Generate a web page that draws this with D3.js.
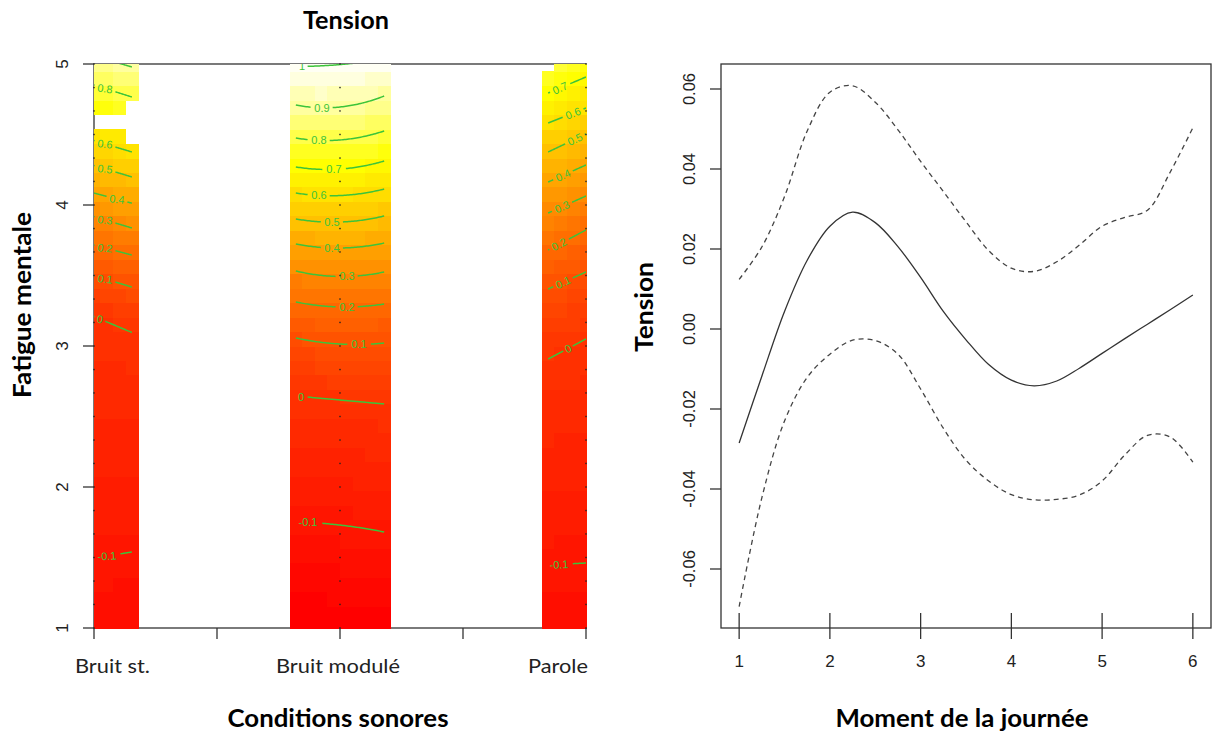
<!DOCTYPE html>
<html><head><meta charset="utf-8">
<script src="https://cdn.jsdelivr.net/npm/d3@7"></script>
<style>body{margin:0;background:#fff}svg{display:block}</style>
</head><body>
<svg id="c" width="1212" height="733"></svg>
<script>
// ---------------- DATA ----------------
const conditions = ["Bruit st.", "Bruit modulé", "Parole"];
const fatigueTicks = [1, 2, 3, 4, 5];
const conditionTicks = [1, 1.5, 2, 2.5, 3];

// heat-map grid (vis.gam, n.grid = 40) : grid columns kept per condition
const gridSize = 40;
const col1Cells = [0, 1, 2, 3];
const col2Cells = [16, 17, 18, 19, 20, 21, 22, 23];
const col3Cells = [36, 37, 38, 39];
const missingCells = [[3, 36], [0, 35], [1, 35], [2, 35], [3, 35], [3, 34], [36, 39]]; // [i, j]

// contour lines: fatigue value at which each level crosses the column edges
const col1X = [1, 1.1538];
const col1Levels = [0.9, 0.8, 0.7, 0.6, 0.5, 0.4, 0.3, 0.2, 0.1, 0, -0.1];
const col1Left  = [5.057, 4.851, 4.660, 4.457, 4.280, 4.085, 3.918, 3.716, 3.500, 3.209, 1.496];
const col1Right = [4.979, 4.766, 4.574, 4.376, 4.199, 4.013, 3.837, 3.645, 3.418, 3.096, 1.539];
const col1LabelX = [null, 1.0447, null, 1.0447, 1.0447, 1.0935, 1.0447, 1.0447, 1.0447, 1.0244, 1.0528];
const col1Hidden = [0.7];

const col2X = [1.8205, 2.0, 2.1795];
const col2Levels = [1.0, 0.9, 0.8, 0.7, 0.6, 0.5, 0.4, 0.3, 0.2, 0.1, 0, -0.1];
const col2Left  = [4.982, 4.709, 4.475, 4.270, 4.085, 3.901, 3.723, 3.532, 3.312, 3.057, 2.645, 1.752];
const col2Mid   = [4.996, 4.695, 4.461, 4.255, 4.067, 3.879, 3.695, 3.493, 3.277, 3.014, 2.617, 1.730];
const col2Right = [5.035, 4.773, 4.525, 4.312, 4.113, 3.922, 3.730, 3.525, 3.298, 3.021, 2.589, 1.681];
const col2LabelX = [1.8455, 1.9268, 1.9146, 1.9756, 1.9146, 1.9675, 1.9675, 2.0285, 2.0285, 2.0772, 1.8415, 1.8699];
const col2Hidden = [];

const col3X = [2.8462, 3.0];
const col3Levels = [0.7, 0.6, 0.5, 0.4, 0.3, 0.2, 0.1, 0, -0.1];
const col3Left  = [4.794, 4.582, 4.376, 4.163, 3.943, 3.681, 3.404, 2.908, 1.447];
const col3Right = [4.908, 4.688, 4.504, 4.284, 4.064, 3.823, 3.525, 3.050, 1.461];
const col3LabelX = [2.8943, 2.9472, 2.9553, 2.9065, 2.9024, 2.8902, 2.9065, 2.9268, 2.8902];
const col3Hidden = [];

// observed fatigue values (points drawn at each condition)
const obsConditions = [1, 2, 3];
const obsFatigue = [1, 1.167, 1.333, 1.5, 1.667, 1.833, 2, 2.167, 2.333, 2.5, 2.667, 2.833, 3,
                    3.167, 3.333, 3.5, 3.667, 3.833, 4, 4.167, 4.333, 4.5, 4.667, 4.833, 5];

// right panel: smooth of "Moment de la journée"
const momentX   = [1, 1.25, 1.5, 1.75, 2, 2.25, 2.5, 2.75, 3, 3.25, 3.5, 3.75, 4, 4.25, 4.5, 4.75, 5, 5.25, 5.5, 5.75, 6];
const fitValues = [-0.0285, -0.0118, 0.0044, 0.0172, 0.0257, 0.0292, 0.0266, 0.0206, 0.0129, 0.0044, -0.0027, -0.0089,
                   -0.0128, -0.0142, -0.0130, -0.0098, -0.0061, -0.0024, 0.0012, 0.0048, 0.0085];
const upperValues = [0.0124, 0.0205, 0.0331, 0.0495, 0.0592, 0.0608, 0.0567, 0.0498, 0.0419, 0.0344, 0.0268, 0.0196,
                     0.0152, 0.0144, 0.0168, 0.0210, 0.0257, 0.0279, 0.0297, 0.0392, 0.0503];
const lowerValues = [-0.0694, -0.0422, -0.0230, -0.0121, -0.0063, -0.0028, -0.0029, -0.0063, -0.0150, -0.0248, -0.0328, -0.0380,
                     -0.0414, -0.0427, -0.0426, -0.0415, -0.0380, -0.0315, -0.0266, -0.0270, -0.0333];
const momentTicks = [1, 2, 3, 4, 5, 6];
const tensionTicks = [-0.06, -0.04, -0.02, 0, 0.02, 0.04, 0.06];
const rugX = [1, 2, 3, 4, 5, 6];

// ---------------- DRAWING ----------------
const svg = d3.select("#c");
const numFont = "'Liberation Sans', Arial, sans-serif";
const txtFont = "Lato, 'Liberation Sans', sans-serif";
const axisCol = "#333";
const contourCol = "#3cc43a";

// ---- left panel ----
const xL = d3.scaleLinear().domain([1, 3]).range([94, 586]);
const yL = d3.scaleLinear().domain([1, 5]).range([628, 64]);
const gx = i => 1 + 2 * i / (gridSize - 1);
const gy = j => 1 + 4 * j / (gridSize - 1);
const dxg = 2 / (gridSize - 1), dyg = 4 / (gridSize - 1);

const columns = [
  {cells: col1Cells, xs: col1X, levels: col1Levels, pos: [col1Left, col1Right], labelX: col1LabelX, hidden: col1Hidden, rot: 0.4},
  {cells: col2Cells, xs: col2X, levels: col2Levels, pos: [col2Left, col2Mid, col2Right], labelX: col2LabelX, hidden: col2Hidden, rot: 0},
  {cells: col3Cells, xs: col3X, levels: col3Levels, pos: [col3Left, col3Right], labelX: col3LabelX, hidden: col3Hidden, rot: 1}
];

function posAt(def, k, x) {
  const xs = def.xs, p = def.pos.map(a => a[k]);
  if (xs.length === 2) {
    return p[0] + (p[1] - p[0]) * (x - xs[0]) / (xs[1] - xs[0]);
  }
  const [x0, x1, x2] = xs, [p0, p1, p2] = p;
  return p0 * (x - x1) * (x - x2) / ((x0 - x1) * (x0 - x2)) +
         p1 * (x - x0) * (x - x2) / ((x1 - x0) * (x1 - x2)) +
         p2 * (x - x0) * (x - x1) / ((x2 - x0) * (x2 - x1));
}
function zAt(def, x, f) {
  const arr = def.levels.map((lv, k) => ({z: lv, f: posAt(def, k, x)})).sort((a, b) => a.f - b.f);
  let a, b;
  if (f <= arr[0].f) { a = arr[0]; b = arr[1]; }
  else if (f >= arr[arr.length - 1].f) { a = arr[arr.length - 2]; b = arr[arr.length - 1]; }
  else {
    for (let k = 0; k < arr.length - 1; k++) {
      if (f >= arr[k].f && f <= arr[k + 1].f) { a = arr[k]; b = arr[k + 1]; break; }
    }
  }
  return a.z + (b.z - a.z) * (f - a.f) / (b.f - a.f);
}
const missing = new Set(missingCells.map(d => d[0] + "_" + d[1]));
const cells = [];
columns.forEach(def => {
  def.cells.forEach(i => {
    for (let j = 0; j < gridSize; j++) {
      if (missing.has(i + "_" + j)) continue;
      cells.push({i, j, z: zAt(def, gx(i), gy(j))});
    }
  });
});
const zExt = d3.extent(cells, d => d.z);
// heat.colors(50)
function heatColor(k) {
  if (k < 38) return d3.hsl((k / 37) * 60, 1, 0.5).formatHex();
  const m = k - 38;
  const s = (1 - 1 / 24) - m * ((1 - 2 / 24) / 11);
  const b = Math.round(255 * (1 - s));
  return d3.rgb(255, 255, b).formatHex();
}
const colIndex = z => Math.max(0, Math.min(49, Math.floor((z - zExt[0]) / (zExt[1] - zExt[0]) * 50)));

const gL = svg.append("g");
gL.append("rect").attr("x", xL(1)).attr("y", yL(5)).attr("width", xL(3) - xL(1)).attr("height", yL(1) - yL(5))
  .attr("fill", "none").attr("stroke", axisCol).attr("stroke-width", 1.3);

gL.append("defs").append("clipPath").attr("id", "clipL").append("rect")
  .attr("x", xL(1)).attr("y", yL(5)).attr("width", xL(3) - xL(1)).attr("height", yL(1) - yL(5));

gL.append("g").attr("shape-rendering", "crispEdges").selectAll("rect").data(cells).join("rect")
  .attr("x", d => xL(Math.max(1, gx(d.i) - dxg / 2)))
  .attr("width", d => xL(Math.min(3, gx(d.i) + dxg / 2)) - xL(Math.max(1, gx(d.i) - dxg / 2)) + 0.5)
  .attr("y", d => yL(Math.min(5, gy(d.j) + dyg / 2)))
  .attr("height", d => yL(Math.max(1, gy(d.j) - dyg / 2)) - yL(Math.min(5, gy(d.j) + dyg / 2)) + 0.5)
  .attr("fill", d => heatColor(colIndex(d.z)));

// contour lines with labels
const gC = gL.append("g").attr("clip-path", "url(#clipL)");
const lineGen = d3.line().x(d => d[0]).y(d => d[1]);
columns.forEach(def => {
  def.levels.forEach((lv, k) => {
    if (def.hidden.includes(lv)) return;
    const x0 = def.xs[0], x1 = def.xs[def.xs.length - 1];
    const n = 60;
    const pts = d3.range(n + 1).map(s => {
      const x = x0 + (x1 - x0) * s / n;
      return [xL(x), yL(posAt(def, k, x))];
    });
    const lab = String(lv);
    let gap = null;
    if (def.labelX[k] != null) {
      const lx = def.labelX[k];
      const px = xL(lx), py = yL(posAt(def, k, lx));
      const pa = yL(posAt(def, k, lx + 0.01)) - yL(posAt(def, k, lx - 0.01));
      const ang = Math.atan2(pa, xL(lx + 0.01) - xL(lx - 0.01));
      const tw = lab.length * 5.4;
      const half = (tw / 2 + 2.5) * Math.cos(ang);
      gap = [px - half, px + half];
      gC.append("text").attr("x", px).attr("y", py)
        .attr("transform", `rotate(${def.rot * ang * 180 / Math.PI},${px},${py})`)
        .attr("text-anchor", "middle").attr("dominant-baseline", "central")
        .attr("font-family", numFont).attr("font-size", 11).attr("fill", contourCol)
        .text(lab);
    }
    let runs = [[]];
    pts.forEach(p => {
      if (gap && p[0] > gap[0] && p[0] < gap[1]) { if (runs[runs.length - 1].length) runs.push([]); }
      else runs[runs.length - 1].push(p);
    });
    runs.filter(r => r.length > 1).forEach(r => {
      gC.append("path").attr("d", lineGen(r)).attr("fill", "none")
        .attr("stroke", contourCol).attr("stroke-width", 1.5);
    });
  });
});

// observation points
const obs = [];
obsConditions.forEach(c => obsFatigue.forEach(f => obs.push([c, f])));
gL.append("g").selectAll("rect").data(obs).join("rect")
  .attr("x", d => xL(d[0]) - 0.7).attr("y", d => yL(d[1]) - 0.7)
  .attr("width", 1.4).attr("height", 1.4).attr("fill", "#222");

// axes left
const axL = gL.append("g");
fatigueTicks.forEach(v => {
  axL.append("line").attr("x1", xL(1) - 11).attr("x2", xL(1)).attr("y1", yL(v)).attr("y2", yL(v))
    .attr("stroke", axisCol).attr("stroke-width", 1.3);
  axL.append("text").attr("transform", `translate(68,${yL(v)}) rotate(-90)`)
    .attr("text-anchor", "middle").attr("font-family", numFont).attr("font-size", 17).attr("fill", "#222").text(v);
});
conditionTicks.forEach(v => {
  axL.append("line").attr("x1", xL(v)).attr("x2", xL(v)).attr("y1", yL(1)).attr("y2", yL(1) + 11)
    .attr("stroke", axisCol).attr("stroke-width", 1.3);
});
const catOffset = [18.5, -2, -28];
const catWidth = [75, 124, 60];
conditions.forEach((c, i) => {
  axL.append("text").attr("x", xL(i + 1) + catOffset[i]).attr("y", 673)
    .attr("text-anchor", "middle").attr("font-family", txtFont).attr("font-size", 20).attr("fill", "#222")
    .attr("textLength", catWidth[i]).attr("lengthAdjust", "spacingAndGlyphs").text(c);
});

function title(x, y, txt, len, rot) {
  const t = svg.append("text").attr("text-anchor", "middle").attr("font-family", txtFont)
    .attr("font-weight", "bold").attr("font-size", 24).attr("fill", "#000")
    .attr("textLength", len).attr("lengthAdjust", "spacingAndGlyphs").text(txt);
  if (rot) t.attr("transform", `translate(${x},${y}) rotate(-90)`);
  else t.attr("x", x).attr("y", y);
}
title(346, 29, "Tension", 86, false);
title(31, 305, "Fatigue mentale", 186, true);
title(338, 727, "Conditions sonores", 221, false);
title(962, 727, "Moment de la journée", 253, false);
title(653, 307, "Tension", 90, true);

// ---- right panel ----
const xR = d3.scaleLinear().domain([0.8, 6.2]).range([721, 1211]);
const yR = d3.scaleLinear().domain([-0.07475, 0.06625]).range([628, 64]);
const gR = svg.append("g");
gR.append("rect").attr("x", xR(0.8)).attr("y", yR(0.06625)).attr("width", xR(6.2) - xR(0.8))
  .attr("height", yR(-0.07475) - yR(0.06625)).attr("fill", "none").attr("stroke", axisCol).attr("stroke-width", 1.3);

const curve = d3.line().x((d, i) => xR(momentX[i])).y(d => yR(d)).curve(d3.curveCatmullRom.alpha(0.5));
gR.append("path").attr("d", curve(fitValues)).attr("fill", "none").attr("stroke", "#333").attr("stroke-width", 1.3);
gR.append("path").attr("d", curve(upperValues)).attr("fill", "none").attr("stroke", "#444").attr("stroke-width", 1.3)
  .attr("stroke-dasharray", "5,4");
gR.append("path").attr("d", curve(lowerValues)).attr("fill", "none").attr("stroke", "#444").attr("stroke-width", 1.3)
  .attr("stroke-dasharray", "5,4");

rugX.forEach(v => {
  gR.append("line").attr("x1", xR(v)).attr("x2", xR(v)).attr("y1", yR(-0.07475)).attr("y2", yR(-0.07475) - 15)
    .attr("stroke", axisCol).attr("stroke-width", 1.3);
});
momentTicks.forEach(v => {
  gR.append("line").attr("x1", xR(v)).attr("x2", xR(v)).attr("y1", yR(-0.07475)).attr("y2", yR(-0.07475) + 11)
    .attr("stroke", axisCol).attr("stroke-width", 1.3);
  gR.append("text").attr("x", xR(v)).attr("y", 667).attr("text-anchor", "middle")
    .attr("font-family", numFont).attr("font-size", 17).attr("fill", "#222").text(v);
});
tensionTicks.forEach(v => {
  gR.append("line").attr("x1", xR(0.8) - 11).attr("x2", xR(0.8)).attr("y1", yR(v)).attr("y2", yR(v))
    .attr("stroke", axisCol).attr("stroke-width", 1.3);
  gR.append("text").attr("transform", `translate(695,${yR(v)}) rotate(-90)`).attr("text-anchor", "middle")
    .attr("font-family", numFont).attr("font-size", 16.5).attr("fill", "#222").text(v.toFixed(2));
});
</script>
</body></html>
